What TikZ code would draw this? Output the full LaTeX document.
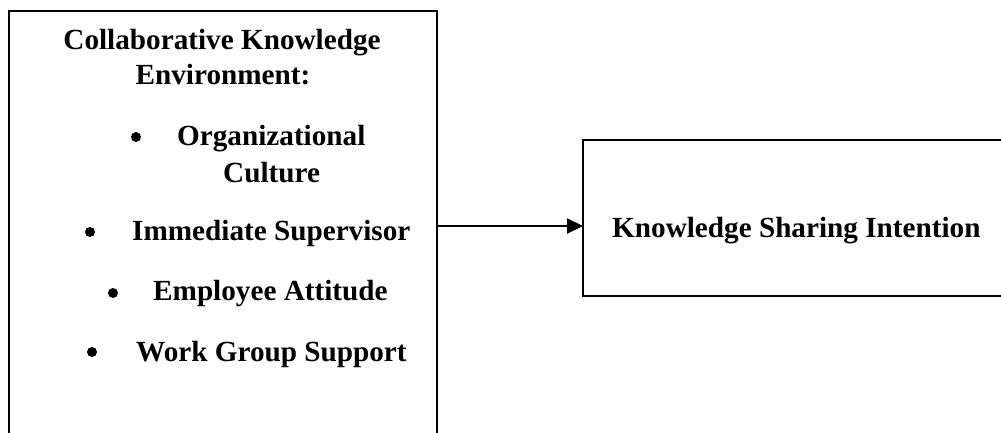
\documentclass[tikz,border=0pt]{standalone}
\usepackage{fontspec}
\setmainfont{Liberation Serif}
\usetikzlibrary{arrows.meta}
\begin{document}
\begin{tikzpicture}[x=1pt,y=1pt,
  box/.style={draw, line width=2pt, inner sep=0pt, outer sep=0pt},
  txt/.style={font=\fontsize{29.2}{34}\selectfont\bfseries, inner sep=0pt},
  itemtxt/.style={txt, anchor=base west},
  dot/.style={circle, fill, inner sep=0pt, minimum size=10pt}]
\useasboundingbox (0,0) rectangle (1001,432);
\clip (0,0) rectangle (1001,432);
% boxes
\node[box, minimum width=428pt, minimum height=441pt] (lbox) at (223,200.5) {};
\node[box, minimum width=440pt, minimum height=156pt] (rbox) at (803,214) {};
% arrow
\coordinate (ay) at (0,206);
\draw[line width=2pt, -{Triangle[length=16pt,width=15pt]}] (lbox.east |- ay) -- (rbox.west |- ay);
% left text
\node[txt, anchor=base] (t1) at (222,382) {Collaborative Knowledge};
\node[txt, anchor=base] (t2) at (223,347) {Environment:};
\node[dot] (b1) at (136,295) {};
\node[itemtxt] (i1) at (177,287) {Organizational};
\node[itemtxt] (i1b) at (223,250) {Culture};
\node[dot] (b2) at (90,200) {};
\node[itemtxt] (i2) at (132,192) {Immediate Supervisor};
\node[dot] (b3) at (113,139) {};
\node[itemtxt] (i3) at (153,132) {Employee Attitude};
\node[dot] (b4) at (92,80) {};
\node[itemtxt] (i4) at (136,71) {Work Group Support};
% right text
\node[itemtxt] (r1) at (612,195) {Knowledge Sharing Intention};
\end{tikzpicture}
\end{document}
